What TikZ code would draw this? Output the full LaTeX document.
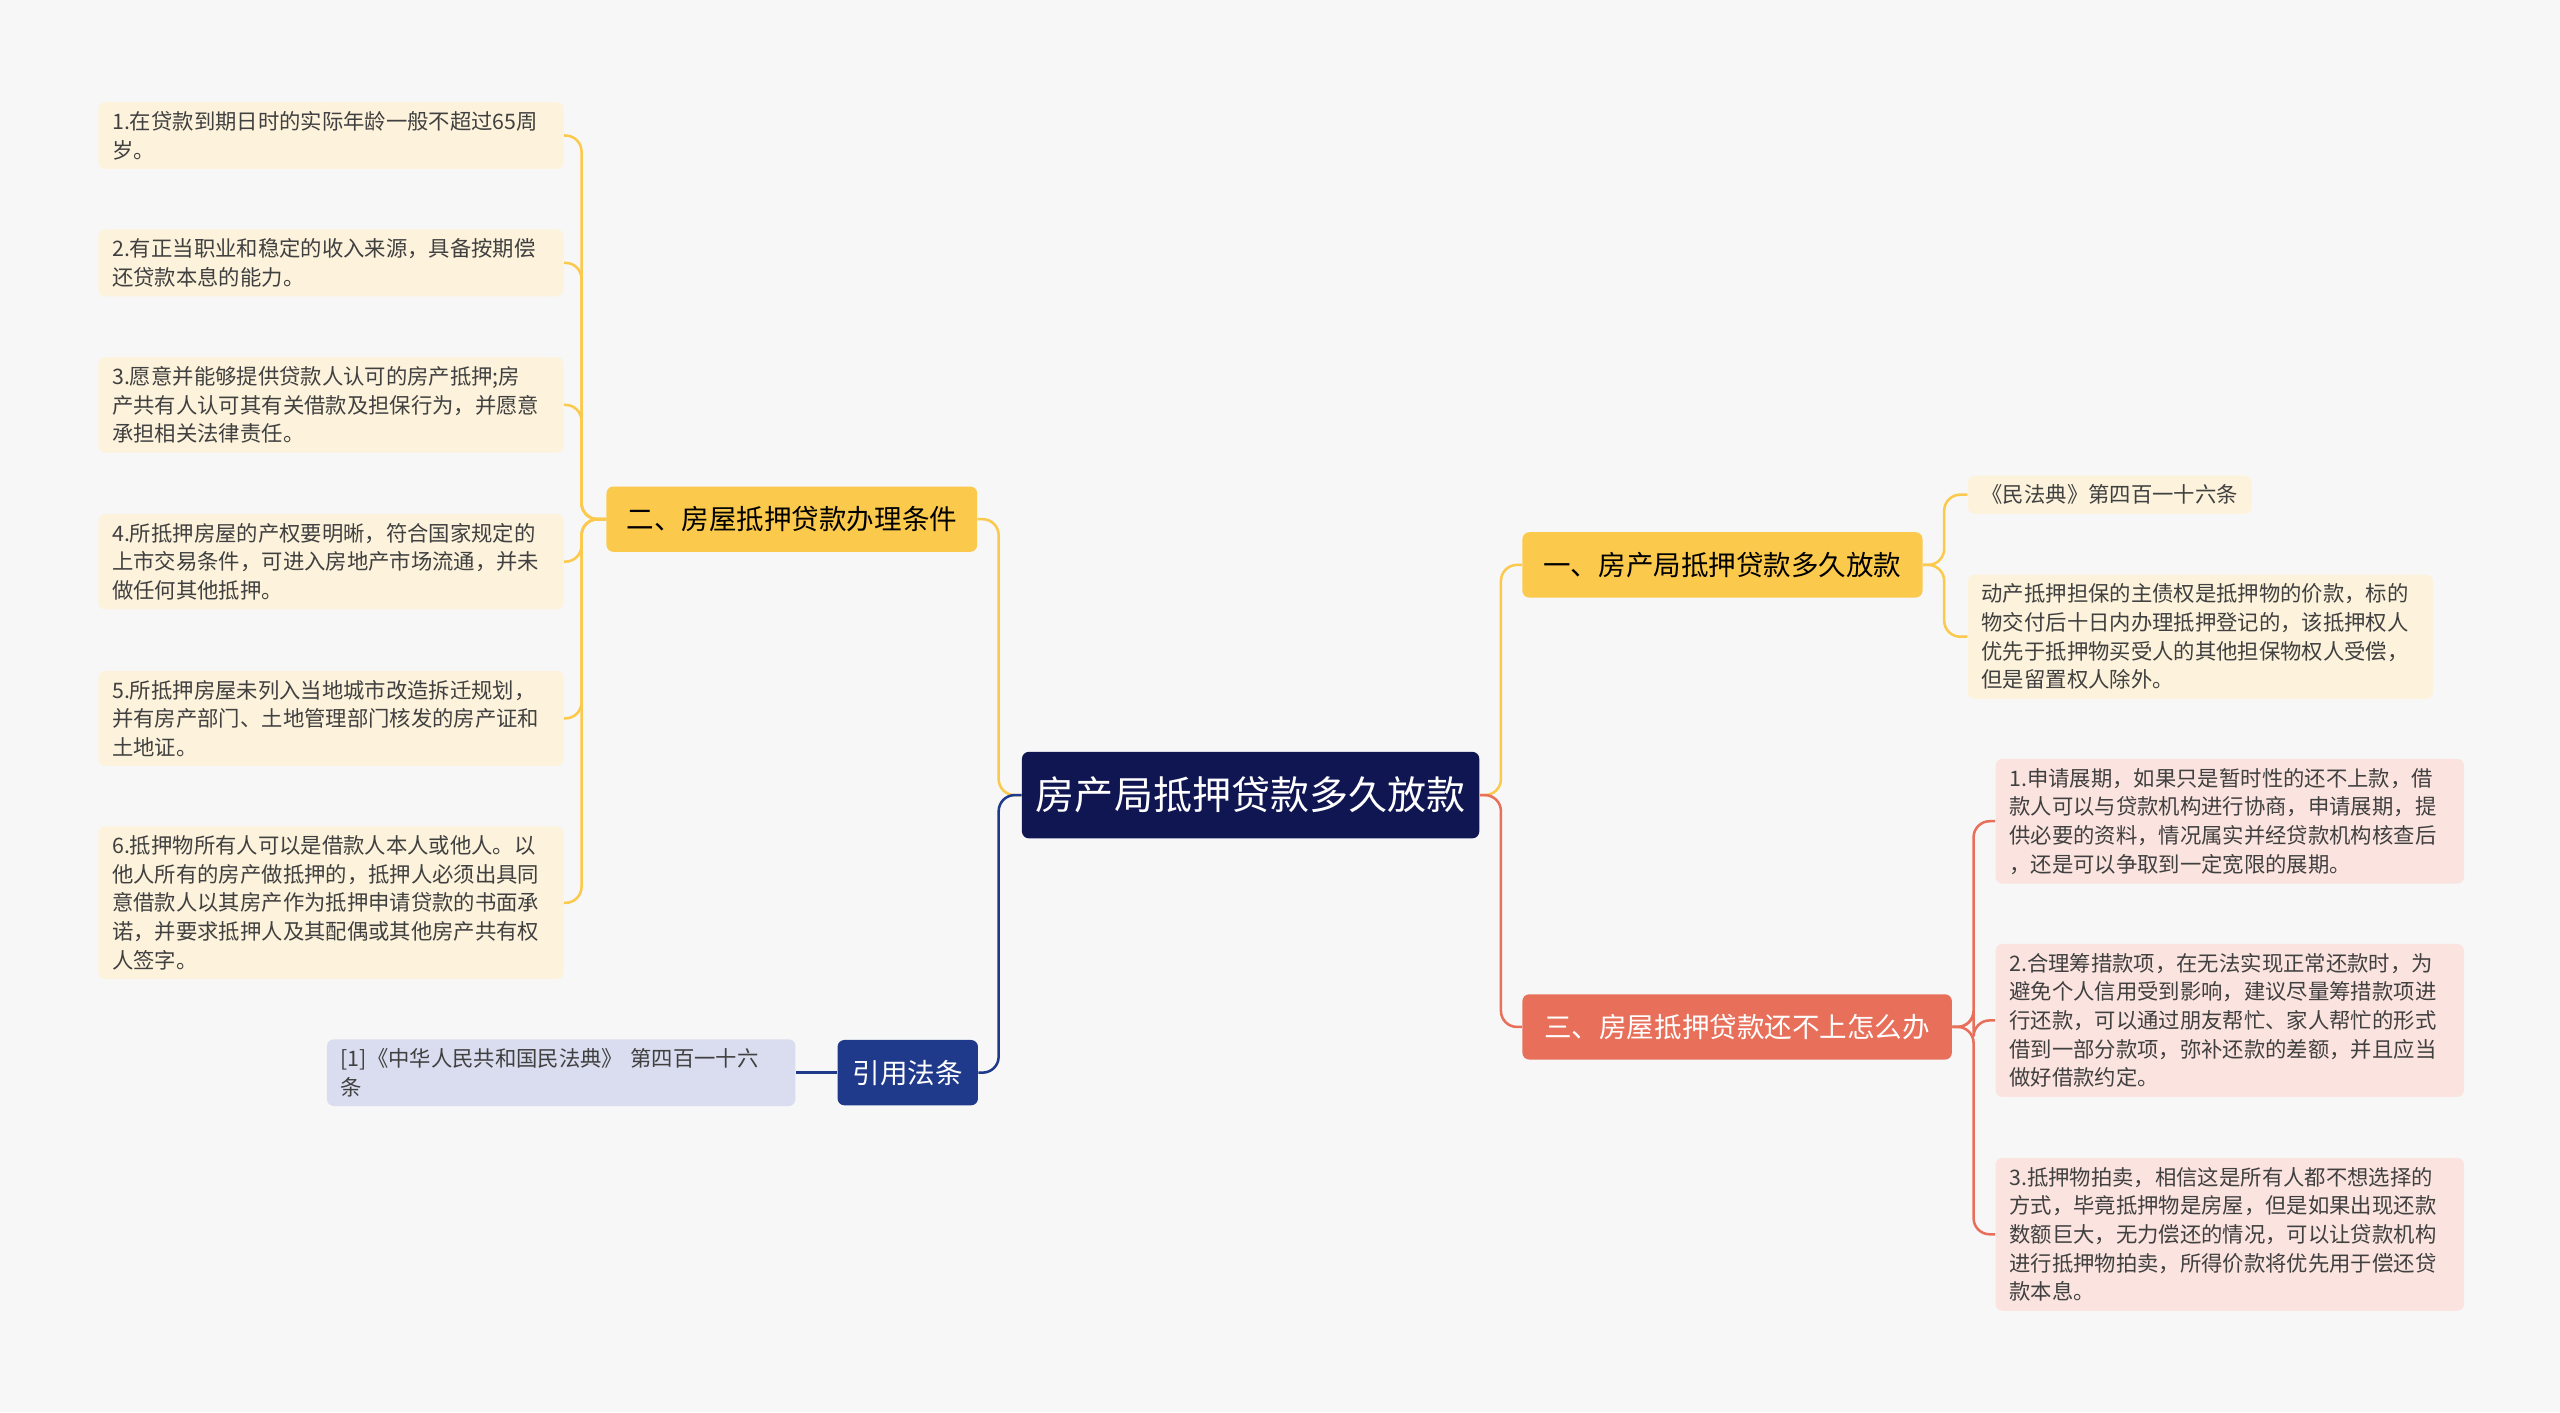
\documentclass[tikz,border=0pt]{standalone}
\usepackage{fontspec}
\setmainfont{Noto Sans CJK SC}
\begin{document}
\begin{tikzpicture}[x=0.025cm,y=-0.025cm,
  root/.style={fill=rootc, text=white, rounded corners=3, font=\fontsize{17}{20}\selectfont, minimum width=7cm, minimum height=1.325cm, inner sep=0pt},
  branch/.style={rounded corners=3, font=\fontsize{12}{14}\selectfont, minimum height=1cm, inner sep=0pt},
  leaf/.style={rounded corners=3, font=\fontsize{9.3}{12.5}\selectfont, align=left, anchor=west, inner xsep=6pt, inner ysep=4pt, text=black!75},
  link/.style={line width=1.1pt, rounded corners=7}]
\definecolor{rootc}{HTML}{0F1652}
\definecolor{yelc}{HTML}{FBC94B}
\definecolor{yell}{HTML}{FDF3DC}
\definecolor{bluc}{HTML}{1F3A8A}
\definecolor{blul}{HTML}{D9DDEF}
\definecolor{redc}{HTML}{E8705A}
\definecolor{redl}{HTML}{FBE4DF}
\useasboundingbox[fill=white!97!black] (0,0) rectangle (1568,865);
% root and branches
\node[root] (root) at (766,487) {房产局抵押贷款多久放款};
\node[branch, fill=yelc, minimum width=5.675cm] (cond) at (485,318) {二、房屋抵押贷款办理条件};
\node[branch, fill=bluc, text=white, minimum width=2.15cm] (law) at (556,657) {引用法条};
\node[branch, fill=yelc, minimum width=6.125cm] (time) at (1055,346) {一、房产局抵押贷款多久放款};
\node[branch, fill=redc, text=white, minimum width=6.575cm] (fail) at (1064,629) {三、房屋抵押贷款还不上怎么办};
% left leaves
\node[leaf, fill=yell, text width=6.7cm] (c1) at (60,83) {1.在贷款到期日时的实际年龄一般不超过65周\\岁。};
\node[leaf, fill=yell, text width=6.7cm] (c2) at (60,161) {2.有正当职业和稳定的收入来源，具备按期偿\\还贷款本息的能力。};
\node[leaf, fill=yell, text width=6.7cm] (c3) at (60,248) {3.愿意并能够提供贷款人认可的房产抵押;房\\产共有人认可其有关借款及担保行为，并愿意\\承担相关法律责任。};
\node[leaf, fill=yell, text width=6.7cm] (c4) at (60,344) {4.所抵押房屋的产权要明晰，符合国家规定的\\上市交易条件，可进入房地产市场流通，并未\\做任何其他抵押。};
\node[leaf, fill=yell, text width=6.7cm] (c5) at (60,440) {5.所抵押房屋未列入当地城市改造拆迁规划，\\并有房产部门、土地管理部门核发的房产证和\\土地证。};
\node[leaf, fill=yell, text width=6.7cm] (c6) at (60,553) {6.抵押物所有人可以是借款人本人或他人。以\\他人所有的房产做抵押的，抵押人必须出具同\\意借款人以其房产作为抵押申请贷款的书面承\\诺，并要求抵押人及其配偶或其他房产共有权\\人签字。};
\node[leaf, fill=blul, text width=6.75cm] (l1) at (200,657) {[1]《中华人民共和国民法典》 第四百一十六\\条};
% right leaves
\node[leaf, fill=yell] (t1) at (1205,303) {《民法典》第四百一十六条};
\node[leaf, fill=yell, text width=6.7cm] (t2) at (1205,390) {动产抵押担保的主债权是抵押物的价款，标的\\物交付后十日内办理抵押登记的，该抵押权人\\优先于抵押物买受人的其他担保物权人受偿，\\但是留置权人除外。};
\node[leaf, fill=redl, text width=6.75cm] (f1) at (1222,503) {1.申请展期，如果只是暂时性的还不上款，借\\款人可以与贷款机构进行协商，申请展期，提\\供必要的资料，情况属实并经贷款机构核查后\\，还是可以争取到一定宽限的展期。};
\node[leaf, fill=redl, text width=6.75cm] (f2) at (1222,625) {2.合理筹措款项，在无法实现正常还款时，为\\避免个人信用受到影响，建议尽量筹措款项进\\行还款，可以通过朋友帮忙、家人帮忙的形式\\借到一部分款项，弥补还款的差额，并且应当\\做好借款约定。};
\node[leaf, fill=redl, text width=6.75cm] (f3) at (1222,756) {3.抵押物拍卖，相信这是所有人都不想选择的\\方式，毕竟抵押物是房屋，但是如果出现还款\\数额巨大，无力偿还的情况，可以让贷款机构\\进行抵押物拍卖，所得价款将优先用于偿还贷\\款本息。};
% connectors
\draw[link, yelc] (root.west) -- ++(-14,0) |- (cond.east);
\draw[link, bluc] (root.west) -- ++(-14,0) |- (law.east);
\draw[link, yelc] (root.east) -- ++(13,0) |- (time.west);
\draw[link, redc] (root.east) -- ++(13,0) |- (fail.west);
\foreach \n in {c1,c2,c3,c4,c5,c6}
  \draw[link, yelc] (cond.west) -- ++(-15,0) |- (\n.east);
\draw[link, bluc] (law.west) -- (l1.east);
\foreach \n in {t1,t2}
  \draw[link, yelc] (time.east) -- ++(13,0) |- (\n.west);
\foreach \n in {f1,f2,f3}
  \draw[link, redc] (fail.east) -- ++(13,0) |- (\n.west);
\end{tikzpicture}
\end{document}
